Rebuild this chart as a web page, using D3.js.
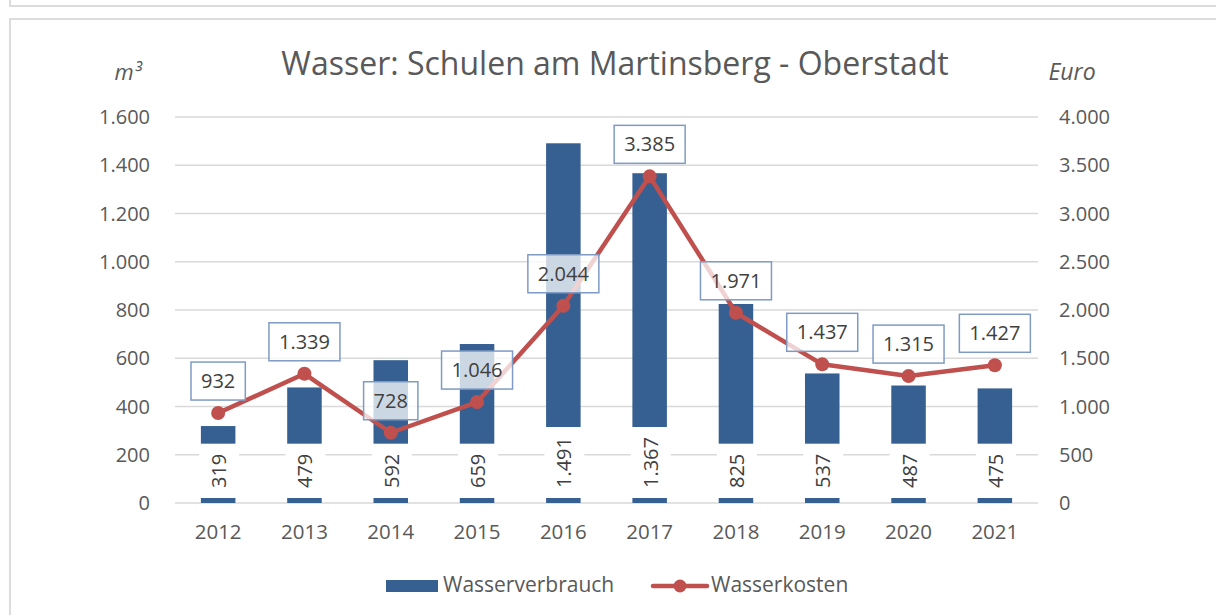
<!DOCTYPE html>
<html>
<head>
<meta charset="utf-8">
<script src="https://cdn.jsdelivr.net/npm/d3@7"></script>
<style>
  body { margin: 0; background: #fff; }
  text { font-family: "Open Sans", sans-serif; }
</style>
</head>
<body>
<svg width="1216" height="615"></svg>
<script>
// data
const years = ["2012","2013","2014","2015","2016","2017","2018","2019","2020","2021"];
const verbrauch = [319, 479, 592, 659, 1491, 1367, 825, 537, 487, 475];
const kosten = [932, 1339, 728, 1046, 2044, 3385, 1971, 1437, 1315, 1427];
const leftTicks = [0, 200, 400, 600, 800, 1000, 1200, 1400, 1600];
const rightTicks = [0, 500, 1000, 1500, 2000, 2500, 3000, 3500, 4000];

const barColor = "#376092";
const lineColor = "#c0504d";
const textGray = "#595959";
const labelGray = "#404040";

const de = d3.formatLocale({decimal: ",", thousands: ".", grouping: [3], currency: ["", " €"]});
const fmt = de.format(",d");

const svg = d3.select("svg");

// card outlines
svg.append("path").attr("d", "M10,0 V6 H1216").attr("fill", "none").attr("stroke", "#dcdcdc").attr("stroke-width", 2);
svg.append("path").attr("d", "M10,615 V19 H1216").attr("fill", "none").attr("stroke", "#dcdcdc").attr("stroke-width", 2);

const x = d3.scaleBand().domain(years).range([175, 1038]).paddingInner(0.6).paddingOuter(0.3);
const yL = d3.scaleLinear().domain([0, 1600]).range([503, 117]);
const yR = d3.scaleLinear().domain([0, 4000]).range([503, 117]);
const cx = d => x(d) + x.bandwidth() / 2;

// gridlines
svg.append("g").selectAll("line").data(leftTicks).join("line")
  .attr("x1", 175).attr("x2", 1038)
  .attr("y1", d => yL(d)).attr("y2", d => yL(d))
  .attr("stroke", "#d9d9d9").attr("stroke-width", 1.3);

// axis labels
svg.append("g").selectAll("text").data(leftTicks).join("text")
  .attr("x", 150).attr("y", d => yL(d)).attr("dy", "0.35em")
  .attr("text-anchor", "end").attr("font-size", 20).attr("fill", textGray)
  .text(d => fmt(d));
svg.append("g").selectAll("text").data(rightTicks).join("text")
  .attr("x", 1059).attr("y", d => yR(d)).attr("dy", "0.35em")
  .attr("text-anchor", "start").attr("font-size", 20).attr("fill", textGray)
  .text(d => fmt(d));
svg.append("g").selectAll("text").data(years).join("text")
  .attr("x", d => cx(d)).attr("y", 532).attr("dy", "0.35em")
  .attr("text-anchor", "middle").attr("font-size", 20.5).attr("fill", textGray)
  .text(d => d);

// title + unit labels
svg.append("text").attr("x", 615).attr("y", 64).attr("dy", "0.35em")
  .attr("text-anchor", "middle").attr("font-size", 32).attr("fill", textGray)
  .text("Wasser: Schulen am Martinsberg - Oberstadt");
svg.append("text").attr("x", 128).attr("y", 72).attr("dy", "0.35em")
  .attr("text-anchor", "middle").attr("font-size", 22).attr("font-style", "italic").attr("fill", textGray)
  .text("m³");
svg.append("text").attr("x", 1072).attr("y", 72).attr("dy", "0.35em")
  .attr("text-anchor", "middle").attr("font-size", 23).attr("font-style", "italic").attr("fill", textGray)
  .text("Euro");

// bars
svg.append("g").selectAll("rect").data(years).join("rect")
  .attr("x", d => x(d)).attr("width", x.bandwidth())
  .attr("y", (d, i) => yL(verbrauch[i]))
  .attr("height", (d, i) => yL(0) - yL(verbrauch[i]))
  .attr("fill", barColor);

// bar value labels (rotated, on white boxes)
const barLab = svg.append("g").selectAll("g").data(years).join("g")
  .attr("transform", d => `translate(${cx(d) + 1},488) rotate(-90)`);
barLab.append("text")
  .attr("x", 0).attr("y", 0).attr("dy", "0.35em")
  .attr("font-size", 20).attr("fill", labelGray)
  .text((d, i) => fmt(verbrauch[i]));
barLab.each(function() {
  const g = d3.select(this);
  const w = g.select("text").node().getComputedTextLength();
  g.insert("rect", "text").attr("x", -10).attr("y", -20).attr("width", w + 20).attr("height", 40).attr("fill", "#fff");
});

// line
const line = d3.line().x((d, i) => cx(years[i])).y(d => yR(d));
svg.append("path").datum(kosten).attr("d", line)
  .attr("fill", "none").attr("stroke", lineColor).attr("stroke-width", 4.5)
  .attr("stroke-linejoin", "round").attr("stroke-linecap", "round");
svg.append("g").selectAll("circle").data(kosten).join("circle")
  .attr("cx", (d, i) => cx(years[i])).attr("cy", d => yR(d)).attr("r", 7)
  .attr("fill", lineColor);

// line value labels
const lineLab = svg.append("g").selectAll("g").data(kosten).join("g")
  .attr("transform", (d, i) => `translate(${cx(years[i])},${yR(d) - 32})`);
lineLab.append("text").attr("text-anchor", "middle").attr("dy", "0.35em")
  .attr("font-size", 20).attr("fill", labelGray).text(d => fmt(d));
lineLab.each(function() {
  const g = d3.select(this);
  const w = g.select("text").node().getComputedTextLength();
  g.insert("rect", "text").attr("x", -w / 2 - 10).attr("y", -19).attr("width", w + 20).attr("height", 38)
    .attr("fill", "#fff").attr("fill-opacity", 0.75)
    .attr("stroke", "#7f9bc4").attr("stroke-width", 1.5);
});

// legend
const leg = svg.append("g");
leg.append("rect").attr("x", 386).attr("y", 580).attr("width", 52).attr("height", 12).attr("fill", barColor);
leg.append("text").attr("x", 443).attr("y", 585).attr("dy", "0.35em").attr("font-size", 21).attr("fill", textGray).text("Wasserverbrauch");
leg.append("line").attr("x1", 653).attr("x2", 707).attr("y1", 586).attr("y2", 586)
  .attr("stroke", lineColor).attr("stroke-width", 4.5).attr("stroke-linecap", "round");
leg.append("circle").attr("cx", 680).attr("cy", 586).attr("r", 6.5).attr("fill", lineColor);
leg.append("text").attr("x", 711).attr("y", 585).attr("dy", "0.35em").attr("font-size", 21).attr("fill", textGray).text("Wasserkosten");
</script>
</body>
</html>
